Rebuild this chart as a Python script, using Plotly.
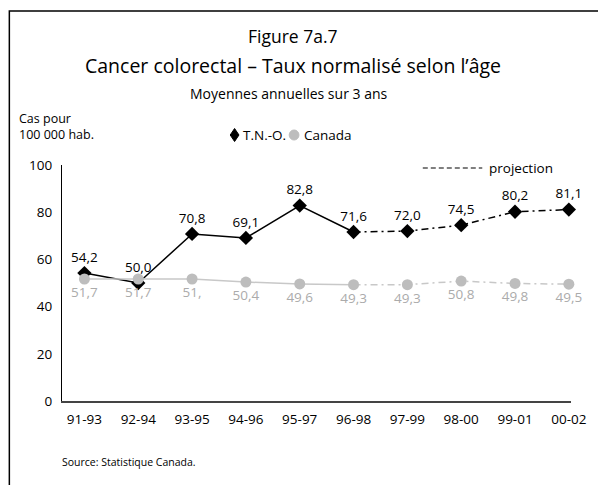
import plotly.graph_objects as go

# ---- data ----
periods = ["91-93", "92-94", "93-95", "94-96", "95-97", "96-98", "97-99", "98-00", "99-01", "00-02"]
tno_values = [54.2, 50.0, 70.8, 69.1, 82.8, 71.6, 72.0, 74.5, 80.2, 81.1]
canada_values = [51.7, 51.7, 51.7, 50.4, 49.6, 49.3, 49.3, 50.8, 49.8, 49.5]
canada_labels = ["51,7", "51,7", "51,", "50,4", "49,6", "49,3", "49,3", "50,8", "49,8", "49,5"]
y_ticks = [0, 20, 40, 60, 80, 100]
series_names = ["T.N.-O.", "Canada"]
proj_start = 5  # index of first projected period (96-98)

FONT = "Open Sans"
W, H = 598, 485
L, R, T, B = 62, 14, 165, 84
PW, PH = W - L - R, H - T - B
TNO_COLOR, CAN_COLOR, CAN_LINE, CAN_TEXT = "black", "#bdbdbd", "#c8c8c8", "#ababab"

xi = list(range(len(periods)))  # category positions on the x axis


def px(x):
    return (x - L) / PW


def py(y):
    return (H - B - y) / PH


def fmt(v):
    return f"{v:.1f}".replace(".", ",")


tno_labels = [fmt(v) for v in tno_values]

fig = go.Figure()

DASH = "7px,4px,2px,4px"

# T.N.-O.
fig.add_trace(go.Scatter(x=xi[:proj_start + 1], y=tno_values[:proj_start + 1], mode="lines",
                         line=dict(color=TNO_COLOR, width=1.5), showlegend=False, hoverinfo="skip"))
fig.add_trace(go.Scatter(x=xi[proj_start:], y=tno_values[proj_start:], mode="lines",
                         line=dict(color=TNO_COLOR, width=1.5, dash=DASH), showlegend=False, hoverinfo="skip"))
fig.add_trace(go.Scatter(x=xi, y=tno_values, mode="markers+text", text=tno_labels,
                         textposition="top center", cliponaxis=False,
                         textfont=dict(family=FONT, size=13.5, color="black"),
                         marker=dict(symbol="diamond", size=11, color=TNO_COLOR),
                         showlegend=False, name=series_names[0]))

# Canada
fig.add_trace(go.Scatter(x=xi[:proj_start + 1], y=canada_values[:proj_start + 1], mode="lines",
                         line=dict(color=CAN_LINE, width=1.5), showlegend=False, hoverinfo="skip"))
fig.add_trace(go.Scatter(x=xi[proj_start:], y=canada_values[proj_start:], mode="lines",
                         line=dict(color=CAN_LINE, width=1.5, dash=DASH), showlegend=False, hoverinfo="skip"))
fig.add_trace(go.Scatter(x=xi, y=canada_values, mode="markers+text", text=canada_labels,
                         textposition="bottom center", cliponaxis=False,
                         textfont=dict(family=FONT, size=13.5, color=CAN_TEXT),
                         marker=dict(symbol="circle", size=11, color=CAN_COLOR),
                         showlegend=False, name=series_names[1]))

ann = []
for text, x, y, size in [("Figure 7a.7", 299, 36, 17.5),
                         ("Cancer colorectal – Taux normalisé selon l’âge", 299, 65, 19.5),
                         ("Moyennes annuelles sur 3 ans", 294, 94, 14)]:
    ann.append(dict(text=text, x=px(x), y=py(y), xref="paper", yref="paper",
                    xanchor="center", yanchor="middle", showarrow=False,
                    font=dict(family=FONT, size=size, color="black")))
ann.append(dict(text="Cas pour<br>100 000 hab.", x=px(16), y=py(126), xref="paper", yref="paper",
                xanchor="left", yanchor="middle", align="left", showarrow=False,
                font=dict(family=FONT, size=12.5, color="black")))
PROJ_Y = 168
ann.append(dict(text="projection", x=px(498), y=py(PROJ_Y), xref="paper", yref="paper",
                xanchor="left", yanchor="middle", showarrow=False,
                font=dict(family=FONT, size=13.5, color="black")))
ann.append(dict(text="Source: Statistique Canada.", x=px(60), y=py(462), xref="paper", yref="paper",
                xanchor="left", yanchor="middle", showarrow=False,
                font=dict(family=FONT, size=10.5, color="black")))

# key (legend) : symbol + name
LEG_Y = 135
for name, xs in [(series_names[0], 246), (series_names[1], 308)]:
    ann.append(dict(text=name, x=px(xs), y=py(LEG_Y), xref="paper", yref="paper",
                    xanchor="left", yanchor="middle", showarrow=False,
                    font=dict(family=FONT, size=13.5, color="black")))

dx, dy = 4.5 / PW, 6.5 / PH
cx, cy = px(239), py(LEG_Y)
diamond = f"M {cx},{cy + dy} L {cx + dx},{cy} L {cx},{cy - dy} L {cx - dx},{cy} Z"
rx, ry = 5 / PW, 5 / PH
ccx = px(300)

shapes = [
    # outer frame (extends past the window on the right and bottom)
    dict(type="rect", xref="paper", yref="paper", x0=px(8), y0=py(11), x1=px(640), y1=py(520),
         line=dict(color="black", width=1.5), fillcolor="rgba(0,0,0,0)", layer="below"),
    # projection key line
    dict(type="line", xref="paper", yref="paper", x0=px(432), x1=px(493), y0=py(PROJ_Y), y1=py(PROJ_Y),
         line=dict(color="black", width=1.2, dash="5px,3px")),
    # legend symbols
    dict(type="path", xref="paper", yref="paper", path=diamond, fillcolor=TNO_COLOR,
         line=dict(color=TNO_COLOR, width=1)),
    dict(type="circle", xref="paper", yref="paper", x0=ccx - rx, x1=ccx + rx, y0=cy - ry, y1=cy + ry,
         fillcolor=CAN_COLOR, line=dict(color=CAN_COLOR, width=1)),
]

fig.update_layout(
    width=W, height=H,
    margin=dict(l=L, r=R, t=T, b=B),
    paper_bgcolor="white", plot_bgcolor="white",
    font=dict(family=FONT, color="black"),
    annotations=ann, shapes=shapes,
    showlegend=False,
)

X0, STEP = 85, 55.2  # pixel of first category, pixel spacing between categories
fig.update_xaxes(type="linear", tickmode="array", tickvals=xi, ticktext=periods,
                 range=[-(X0 - L) / STEP, (W - R - X0) / STEP], showgrid=False, zeroline=False,
                 showline=True, linecolor="#444444", linewidth=1.5, ticks="",
                 ticklabelstandoff=5, ticklabeloverflow="allow",
                 tickfont=dict(family=FONT, size=13.5, color="black"), fixedrange=True)
fig.update_yaxes(range=[0, 100], tickvals=y_ticks, showgrid=False, zeroline=False,
                 showline=True, linecolor="black", linewidth=1.3, ticks="",
                 ticklabelstandoff=6,
                 tickfont=dict(family=FONT, size=13.5, color="black"), fixedrange=True)

fig.write_html("out.html", config={"displayModeBar": False},
               post_script="document.body.style.margin='0';document.body.style.overflow='hidden';")
